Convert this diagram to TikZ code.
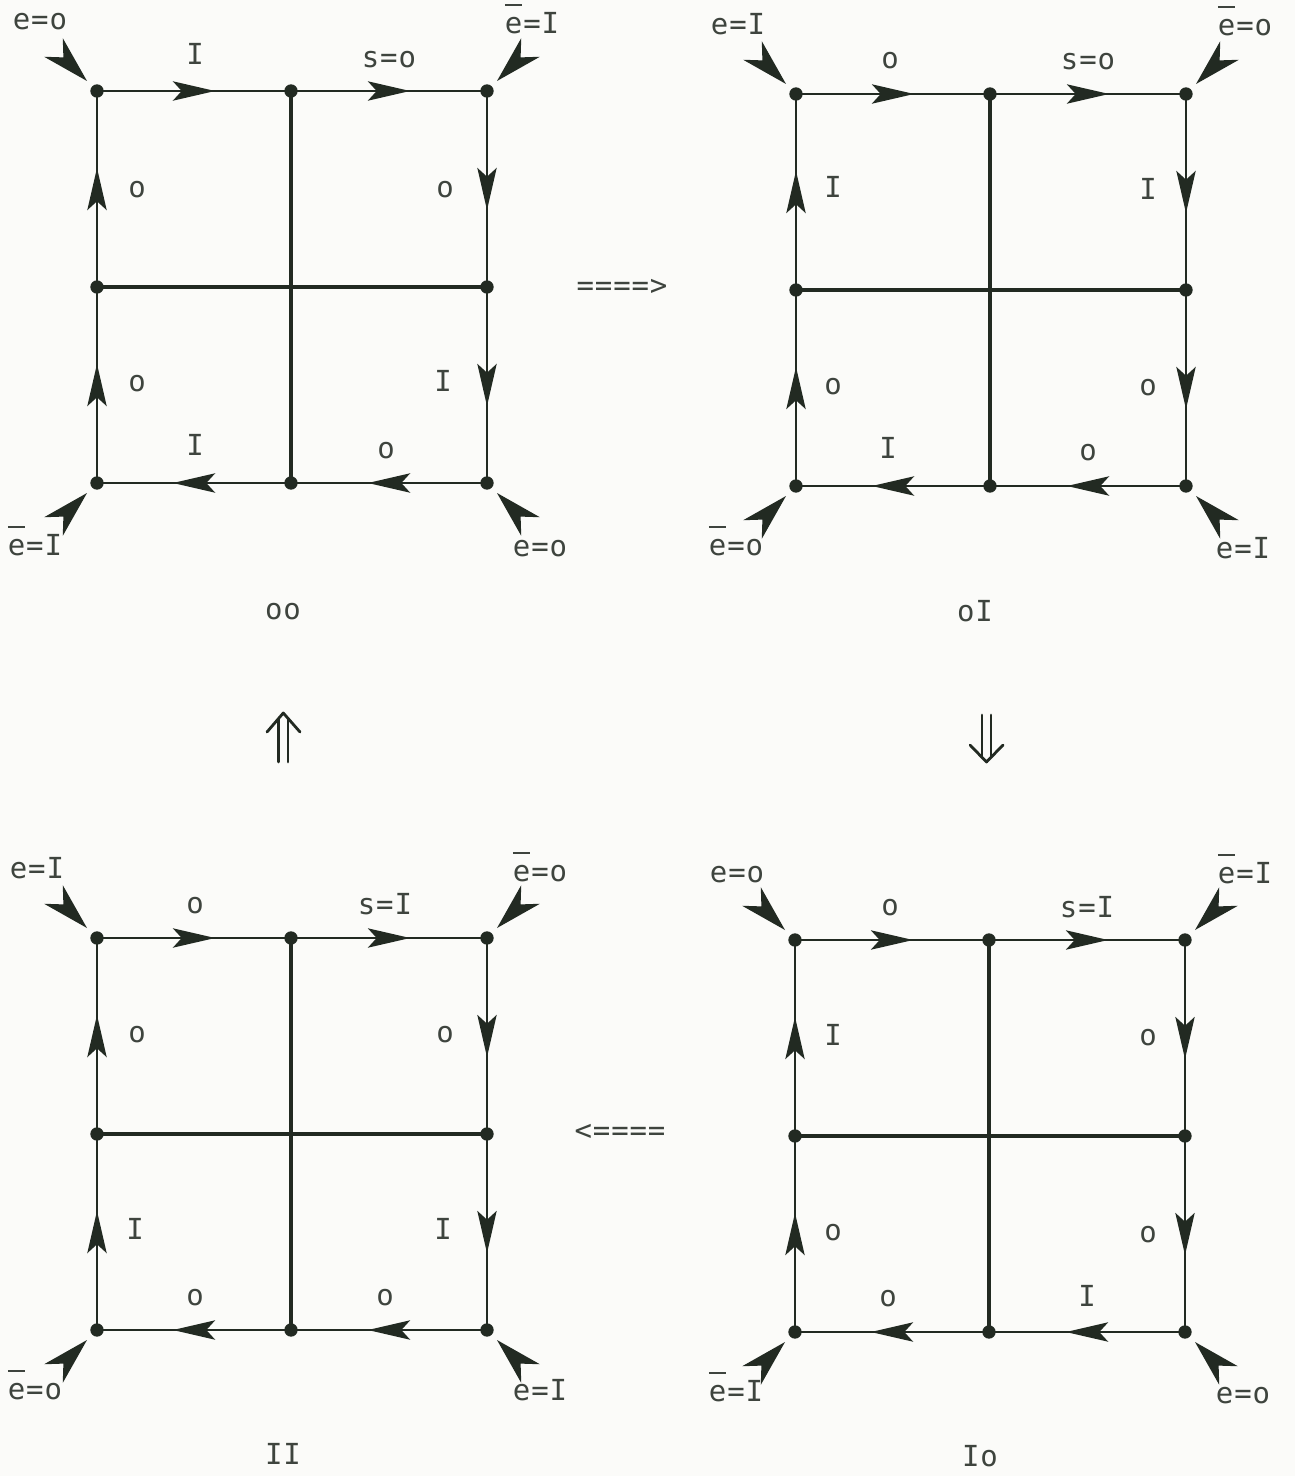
\documentclass[tikz,border=0pt]{standalone}
\usepackage{fontspec}
\newfontfamily\tw[LetterSpace=3]{DejaVu Sans Mono}
\usetikzlibrary{arrows.meta,decorations.markings}
\definecolor{ink}{RGB}{34,42,34}
\definecolor{textink}{RGB}{62,68,62}
\definecolor{paper}{RGB}{251,251,249}
\newcommand\eb{\makebox[0pt][l]{\raisebox{0.95em}{\rule{0.6em}{0.065em}}}e}
\tikzset{
  segarrow/.style={draw=ink, line width=1.2pt, postaction={decorate},
    decoration={markings, mark=at position 0.5 with {\arrow[xshift=12pt]{Stealth[length=24pt,width=11pt,inset=5pt]}}}},
  crossbar/.style={draw=ink, line width=2.4pt},
  lab/.style={font=\tw\fontsize{16.5}{19}\selectfont, text=textink, anchor=mid, inner sep=0pt, yshift=-2.3pt},
  implies/.style={draw=ink, line width=1.6pt, line cap=round, line join=round},
  cornerhead/.pic={\fill[ink] (0,0) -- (-27pt,7.5pt) -- (-19pt,0pt) -- (-27pt,-7.5pt) -- cycle;},
}
\newcommand\gridpanel[3]{%
  \begin{scope}[shift={(#2,#3)}]
    \coordinate (#1tl) at (0,0);   \coordinate (#1tm) at (194,0);   \coordinate (#1tr) at (390,0);
    \coordinate (#1ml) at (0,196); \coordinate (#1c)  at (194,196); \coordinate (#1mr) at (390,196);
    \coordinate (#1bl) at (0,392); \coordinate (#1bm) at (194,392); \coordinate (#1br) at (390,392);
  \end{scope}
  \draw[crossbar] (#1tm) -- (#1bm);
  \draw[crossbar] (#1ml) -- (#1mr);
  \draw[segarrow] (#1tl) -- (#1tm);
  \draw[segarrow] (#1tm) -- (#1tr);
  \draw[segarrow] (#1tr) -- (#1mr);
  \draw[segarrow] (#1mr) -- (#1br);
  \draw[segarrow] (#1br) -- (#1bm);
  \draw[segarrow] (#1bm) -- (#1bl);
  \draw[segarrow] (#1bl) -- (#1ml);
  \draw[segarrow] (#1ml) -- (#1tl);
  \foreach \p in {tl,tm,tr,ml,mr,bl,bm,br} {\fill[ink] (#1\p) circle[radius=3.8pt];}
  \pic[rotate=-45]  at ([shift={(-10,-10)}]#1tl) {cornerhead};
  \pic[rotate=-135] at ([shift={(10,-10)}]#1tr) {cornerhead};
  \pic[rotate=45]   at ([shift={(-10,10)}]#1bl) {cornerhead};
  \pic[rotate=135]  at ([shift={(10,10)}]#1br) {cornerhead};
}
\begin{document}
\begin{tikzpicture}[x=0.02cm,y=-0.02cm]
\fill[paper] (0,0) rectangle (1295,1476);
\useasboundingbox (0,0) rectangle (1295,1476);

% ---------- panel oo ----------
\gridpanel{a}{97}{91}
\node[lab] (a1) at (40,22) {e=o};
\node[lab] (a2) at (195,57) {I};
\node[lab] (a3) at (389,60) {s=o};
\node[lab] (a4) at (532,26) {\eb=I};
\node[lab] (a5) at (137,190) {o};
\node[lab] (a6) at (445,190) {o};
\node[lab] (a7) at (137,384) {o};
\node[lab] (a8) at (443,384) {I};
\node[lab] (a9) at (195,448) {I};
\node[lab] (a10) at (386,451) {o};
\node[lab] (a11) at (35,548) {\eb=I};
\node[lab] (a12) at (540,549) {e=o};
\node[lab] (a13) at (283,612) {oo};

% ---------- panel oI ----------
\gridpanel{b}{796}{94}
\node[lab] (b1) at (738,27) {e=I};
\node[lab] (b2) at (890,61) {o};
\node[lab] (b3) at (1088,62) {s=o};
\node[lab] (b4) at (1245,28) {\eb=o};
\node[lab] (b5) at (833,190) {I};
\node[lab] (b6) at (1148,192) {I};
\node[lab] (b7) at (833,387) {o};
\node[lab] (b8) at (1148,388) {o};
\node[lab] (b9) at (888,451) {I};
\node[lab] (b10) at (1088,453) {o};
\node[lab] (b11) at (736,548) {\eb=o};
\node[lab] (b12) at (1243,551) {e=I};
\node[lab] (b13) at (975,614) {oI};

% ---------- panel II ----------
\gridpanel{c}{97}{938}
\node[lab] (c1) at (37,871) {e=I};
\node[lab] (c2) at (195,906) {o};
\node[lab] (c3) at (385,907) {s=I};
\node[lab] (c4) at (540,874) {\eb=o};
\node[lab] (c5) at (137,1035) {o};
\node[lab] (c6) at (445,1035) {o};
\node[lab] (c7) at (135,1232) {I};
\node[lab] (c8) at (443,1232) {I};
\node[lab] (c9) at (195,1298) {o};
\node[lab] (c10) at (385,1298) {o};
\node[lab] (c11) at (35,1392) {\eb=o};
\node[lab] (c12) at (540,1393) {e=I};
\node[lab] (c13) at (283,1457) {II};

% ---------- panel Io ----------
\gridpanel{d}{795}{940}
\node[lab] (d1) at (737,875) {e=o};
\node[lab] (d2) at (890,908) {o};
\node[lab] (d3) at (1087,910) {s=I};
\node[lab] (d4) at (1245,876) {\eb=I};
\node[lab] (d5) at (833,1038) {I};
\node[lab] (d6) at (1148,1038) {o};
\node[lab] (d7) at (833,1233) {o};
\node[lab] (d8) at (1148,1235) {o};
\node[lab] (d9) at (888,1299) {o};
\node[lab] (d10) at (1087,1299) {I};
\node[lab] (d11) at (736,1394) {\eb=I};
\node[lab] (d12) at (1243,1396) {e=o};
\node[lab] (d13) at (980,1459) {Io};

% ---------- transitions ----------
\node[lab] (t1) at (622,288) {====>};
\node[lab] (t2) at (620,1133) {<====};
% up double arrow
\draw[implies] (278.5,762) -- (278.5,719);
\draw[implies] (288,762) -- (288,719);
\draw[implies] (267,732) -- (283.3,713) -- (300,732);
% down double arrow
\draw[implies] (982,715) -- (982,756);
\draw[implies] (991,715) -- (991,756);
\draw[implies] (970,745) -- (986.5,762) -- (1003,745);
\end{tikzpicture}
\end{document}
